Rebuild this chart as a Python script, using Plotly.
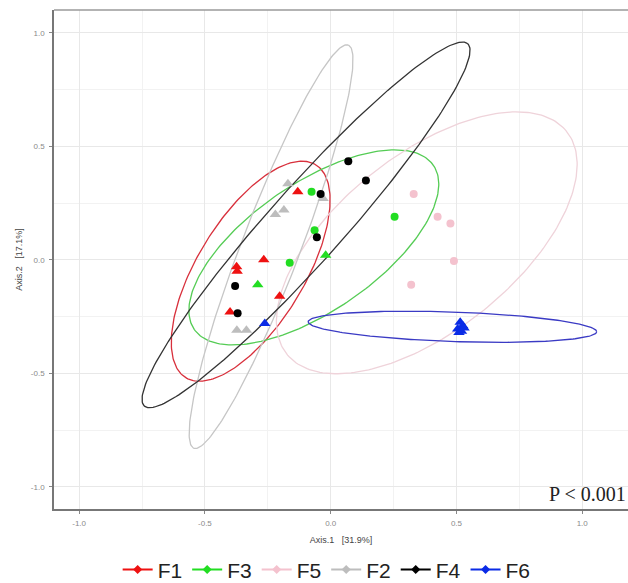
import numpy as np
import plotly.graph_objects as go

# ---------------- data ----------------
groups = ["F1", "F3", "F5", "F2", "F4", "F6"]

F1_x = [-0.131, -0.374, -0.372, -0.266, -0.203, -0.400]
F1_y = [0.300, -0.030, -0.050, 0.000, -0.160, -0.230]
F1_shape = ["triangle-up"] * 6

F3_x = [-0.076, -0.064, -0.163, 0.254, -0.020, -0.290]
F3_y = [0.300, 0.130, -0.013, 0.190, 0.020, -0.110]
F3_shape = ["circle", "circle", "circle", "circle", "triangle-up", "triangle-up"]

F5_x = [0.330, 0.425, 0.476, 0.490, 0.320]
F5_y = [0.290, 0.190, 0.160, -0.005, -0.110]
F5_shape = ["circle"] * 5

F2_x = [-0.170, -0.220, -0.186, -0.373, -0.335, -0.030]
F2_y = [0.335, 0.200, 0.220, -0.310, -0.310, 0.270]
F2_shape = ["triangle-up"] * 6

F4_x = [0.070, 0.140, -0.040, -0.055, -0.380, -0.370]
F4_y = [0.435, 0.350, 0.290, 0.100, -0.115, -0.235]
F4_shape = ["circle"] * 6

F6_x = [0.515, 0.525, 0.505, 0.520, 0.510, 0.530, -0.262]
F6_y = [-0.275, -0.290, -0.305, -0.315, -0.320, -0.300, -0.280]
F6_shape = ["triangle-up"] * 7

# 95% ellipses (centre, semi-axes, rotation in degrees)
ell_cx = [-0.318, -0.067, 0.382, -0.237, -0.098, 0.484]
ell_cy = [-0.050, 0.055, 0.075, 0.058, 0.154, -0.295]
ell_a = [0.536, 0.598, 0.743, 0.940, 1.025, 0.574]
ell_b = [0.218, 0.272, 0.372, 0.118, 0.154, 0.065]
ell_angle = [62.2, 38.7, 43.3, 71.0, 51.3, -2.2]

x_ticks = [-1.0, -0.5, 0.0, 0.5, 1.0]
x_ticktext = ["-1.0", "-0.5", "0.0", "0.5", "1.0"]
y_ticks = [-1.0, -0.5, 0.0, 0.5, 1.0]
y_ticktext = ["-1.0", "-0.5", "0.0", "0.5", "1.0"]

x_title = "Axis.1   [31.9%]"
y_title = "Axis.2   [17.1%]"
p_text = "P < 0.001"

# ---------------- styles ----------------
point_colors = {"F1": "#EE1111", "F3": "#22DD22", "F5": "#F4C2CE",
                "F2": "#BDBDBD", "F4": "#000000", "F6": "#0A2BE6"}
ell_colors = {"F1": "#D8303C", "F3": "#55CC55", "F5": "#EFD3DA",
              "F2": "#C6C6C6", "F4": "#333333", "F6": "#3A3AC4"}

pts = {
    "F1": (F1_x, F1_y, F1_shape),
    "F3": (F3_x, F3_y, F3_shape),
    "F5": (F5_x, F5_y, F5_shape),
    "F2": (F2_x, F2_y, F2_shape),
    "F4": (F4_x, F4_y, F4_shape),
    "F6": (F6_x, F6_y, F6_shape),
}

fig = go.Figure()

t = np.linspace(0, 2 * np.pi, 241)
for i, g in enumerate(groups):
    th = np.deg2rad(ell_angle[i])
    ex = ell_cx[i] + ell_a[i] * np.cos(t) * np.cos(th) - ell_b[i] * np.sin(t) * np.sin(th)
    ey = ell_cy[i] + ell_a[i] * np.cos(t) * np.sin(th) + ell_b[i] * np.sin(t) * np.cos(th)
    fig.add_trace(go.Scatter(x=ex, y=ey, mode="lines",
                             line=dict(color=ell_colors[g], width=1.3),
                             showlegend=False, hoverinfo="skip"))

for g in ["F5", "F2", "F1", "F3", "F4", "F6"]:
    xs, ys, sh = pts[g]
    sizes = [10 if s.startswith("triangle") else 8 for s in sh]
    fig.add_trace(go.Scatter(x=xs, y=ys, mode="markers",
                             marker=dict(color=point_colors[g], symbol=sh, size=sizes,
                                         opacity=1, line=dict(width=0)),
                             showlegend=False, name=g))

for g in groups:
    fig.add_trace(go.Scatter(x=[None], y=[None], mode="lines+markers", name=g,
                             line=dict(color=point_colors[g], width=2),
                             marker=dict(color=point_colors[g], symbol="diamond", size=7)))

axis_common = dict(
    showline=True, linecolor="#777777", linewidth=1.5,
    ticks="outside", ticklen=3, tickcolor="#888888", tickwidth=1,
    tickfont=dict(size=8, color="#8A8A8A", family="Liberation Sans"),
    ticklabelstandoff=3,
    showgrid=True, gridcolor="#E8E8E8", gridwidth=1,
    zeroline=False, automargin=False,
    minor=dict(dtick=0.25, tick0=0.25, showgrid=True, gridcolor="#F2F2F2", gridwidth=1, ticks=""),
)

fig.update_layout(
    width=628, height=583,
    margin=dict(l=54, r=0, t=10, b=74, autoexpand=False),
    paper_bgcolor="white", plot_bgcolor="white",
    xaxis=dict(range=[-1.1, 1.182], tickvals=x_ticks, ticktext=x_ticktext,
               title=dict(text=x_title, font=dict(size=9, color="#444444", family="Liberation Sans"),
                          standoff=9),
               **axis_common),
    yaxis=dict(range=[-1.098, 1.101], tickvals=y_ticks, ticktext=y_ticktext,
               title=dict(text=y_title, font=dict(size=9, color="#444444", family="Liberation Sans"),
                          standoff=7),
               **axis_common),
    legend=dict(orientation="h", x=0.475, xanchor="center", y=-0.122, yanchor="middle",
                font=dict(size=21, color="#222222", family="Liberation Sans"),
                itemwidth=30, tracegroupgap=0, bgcolor="rgba(0,0,0,0)"),
    shapes=[dict(type="line", xref="paper", yref="paper", x0=0, x1=1, y0=1, y1=1,
                 line=dict(color="#9A9A9A", width=1.5))],
    annotations=[dict(text=p_text, xref="paper", yref="paper", x=1.0, y=0.03,
                      xanchor="right", yanchor="middle", showarrow=False,
                      font=dict(size=20, color="#222222", family="Liberation Serif"))],
)

fig.write_html("out.html", config={"displayModeBar": False},
               post_script="document.body.style.margin='0';")
